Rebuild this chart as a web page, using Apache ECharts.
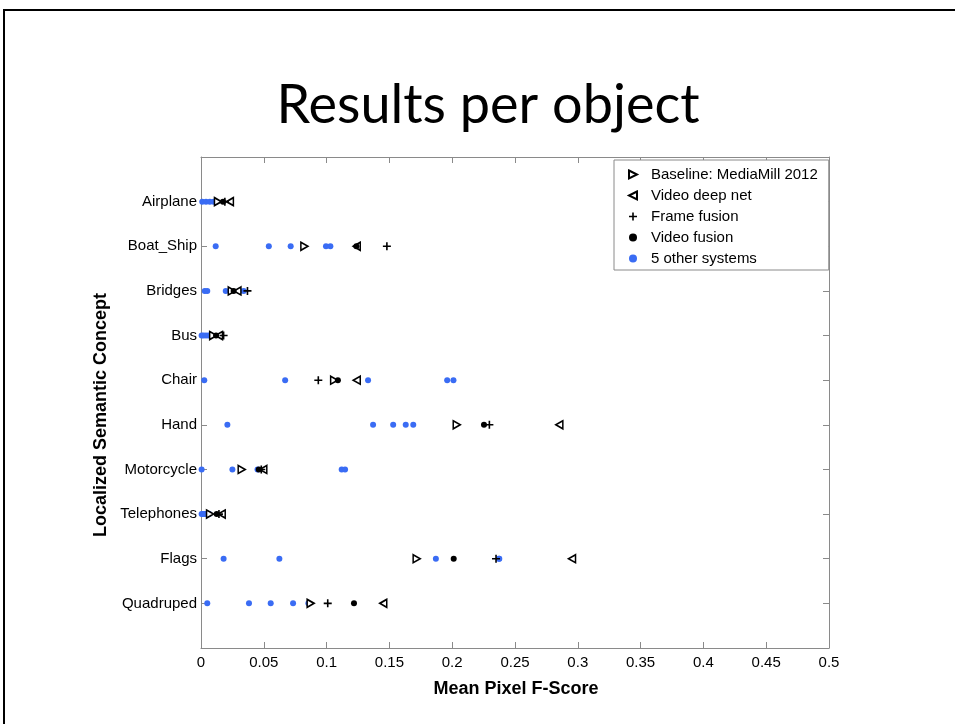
<!DOCTYPE html>
<html>
<head>
<meta charset="utf-8">
<script src="https://cdn.jsdelivr.net/npm/echarts@6/dist/echarts.min.js"></script>
<style>
html,body{margin:0;padding:0;background:#fff;}
#c{width:955px;height:724px;}
</style>
</head>
<body>
<div id="c"></div>
<script>
const categories = ['Airplane','Boat_Ship','Bridges','Bus','Chair','Hand','Motorcycle','Telephones','Flags','Quadruped'];
const xTicks = [0,0.05,0.1,0.15,0.2,0.25,0.3,0.35,0.4,0.45,0.5];
const baseline    = [0.0135, 0.0823, 0.0245, 0.0097, 0.106, 0.2036, 0.0324, 0.0072, 0.1717, 0.0873];
const deepNet     = [0.0230, 0.1240, 0.0290, 0.0143, 0.124, 0.2853, 0.0496, 0.0165, 0.2954, 0.1451];
const frameFusion = [0.0190, 0.1480, 0.0370, 0.0180, 0.0934, 0.2296, 0.0480, 0.0143, 0.2349, 0.1009];
const videoFusion = [0.0175, 0.1237, 0.0260, 0.0120, 0.109, 0.2253, 0.0460, 0.0125, 0.2012, 0.1218];
const otherSystems = [
  [0.001, 0.004, 0.007, 0.010, 0.012],
  [0.0117, 0.054, 0.0714, 0.0995, 0.103],
  [0.003, 0.005, 0.0197, 0.0305, 0.034],
  [0.0005, 0.002, 0.004, 0.006, 0.008],
  [0.0026, 0.067, 0.133, 0.196, 0.201],
  [0.021, 0.137, 0.153, 0.163, 0.169],
  [0.0005, 0.025, 0.045, 0.112, 0.1147],
  [0.0005, 0.0015, 0.003, 0.004, 0.0065],
  [0.018, 0.0624, 0.187, 0.2372, 0.2375],
  [0.005, 0.0382, 0.0555, 0.0733, 0.0855]
];

const toPts = arr => arr.map((v, i) => [v, i + 1]);
const otherPts = [];
otherSystems.forEach((row, i) => row.forEach(v => otherPts.push([v, i + 1])));

const AX = '#8a8a8a';
const FONT = '"Liberation Sans", Arial, Helvetica, sans-serif';
const plus = 'path://M4,0H6V4H10V6H6V10H4V6H0V4H4Z';
const triRight = 'path://M0,0L10,5L0,10Z';
const triLeft = 'path://M10,0L0,5L10,10Z';

const axisCommon = {
  axisLine: {show: true, onZero: false, lineStyle: {color: AX, width: 1}},
  axisTick: {show: true, inside: true, length: 6, lineStyle: {color: AX}},
  splitLine: {show: false}
};

const chart = echarts.init(document.getElementById('c'), null, {renderer: 'canvas'});
chart.setOption({
  animation: false,
  backgroundColor: '#fff',
  grid: {left: 201, right: 126, top: 157, bottom: 76, containLabel: false},
  xAxis: [Object.assign({
    type: 'value', min: 0, max: 0.5, interval: 0.05, position: 'bottom',
    axisLabel: {color: '#000', fontSize: 15, fontFamily: FONT, margin: 7,
      formatter: v => String(xTicks[Math.round(v / 0.05)])}
  }, axisCommon), Object.assign({
    type: 'value', min: 0, max: 0.5, interval: 0.05, position: 'top',
    axisLabel: {show: false}
  }, axisCommon)],
  yAxis: [Object.assign({
    type: 'value', min: 0, max: 11, interval: 1, inverse: true, position: 'left',
    axisLabel: {color: '#000', fontSize: 15, fontFamily: FONT, margin: 4,
      formatter: v => (v >= 1 && v <= categories.length) ? categories[v - 1] : ''}
  }, axisCommon), Object.assign({
    type: 'value', min: 0, max: 11, interval: 1, inverse: true, position: 'right',
    axisLabel: {show: false}
  }, axisCommon)],
  legend: {
    orient: 'vertical', left: 614, top: 160,
    padding: [7, 11, 4, 14], itemGap: 6, itemWidth: 8, itemHeight: 8,
    borderColor: '#8a8a8a', borderWidth: 1, backgroundColor: '#fff',
    textStyle: {color: '#000', fontSize: 15, fontFamily: FONT, lineHeight: 15, padding: [0, 0, 0, 9]},
    data: ['Baseline: MediaMill 2012', 'Video deep net', 'Frame fusion', 'Video fusion', '5 other systems']
  },
  series: [{
    name: 'Baseline: MediaMill 2012', type: 'scatter', data: toPts(baseline), z: 3,
    symbol: triRight, symbolSize: [7, 8],
    itemStyle: {color: '#fff', borderColor: '#000', borderWidth: 1.6, opacity: 1}
  }, {
    name: 'Video deep net', type: 'scatter', data: toPts(deepNet), z: 3,
    symbol: triLeft, symbolSize: [7, 8],
    itemStyle: {color: '#fff', borderColor: '#000', borderWidth: 1.6, opacity: 1}
  }, {
    name: 'Frame fusion', type: 'scatter', data: toPts(frameFusion), z: 3,
    symbol: plus, symbolSize: 8,
    itemStyle: {color: '#000', opacity: 1}
  }, {
    name: 'Video fusion', type: 'scatter', data: toPts(videoFusion), z: 3,
    symbol: 'circle', symbolSize: 6,
    itemStyle: {color: '#000', opacity: 1}
  }, {
    name: '5 other systems', type: 'scatter', data: otherPts, z: 2,
    symbol: 'circle', symbolSize: 6,
    itemStyle: {color: '#3a6cf4', opacity: 1}
  }],
  graphic: [{
    type: 'rect', silent: true, z: 100,
    shape: {x: 4, y: 10, width: 1000, height: 800},
    style: {fill: 'none', stroke: '#000', lineWidth: 2}
  }, {
    type: 'text', x: 488, y: 106, silent: true,
    style: {text: 'Results per object', fill: '#000', font: '54px Lato, "Open Sans", sans-serif',
      textAlign: 'center', textVerticalAlign: 'middle'}
  }, {
    type: 'text', x: 516, y: 689, silent: true,
    style: {text: 'Mean Pixel F-Score', fill: '#000', font: 'bold 18px ' + FONT,
      textAlign: 'center', textVerticalAlign: 'middle'}
  }, {
    type: 'text', x: 101, y: 415, rotation: Math.PI / 2, silent: true,
    style: {text: 'Localized Semantic Concept', fill: '#000', font: 'bold 18px ' + FONT,
      textAlign: 'center', textVerticalAlign: 'middle'}
  }]
});
</script>
</body>
</html>
